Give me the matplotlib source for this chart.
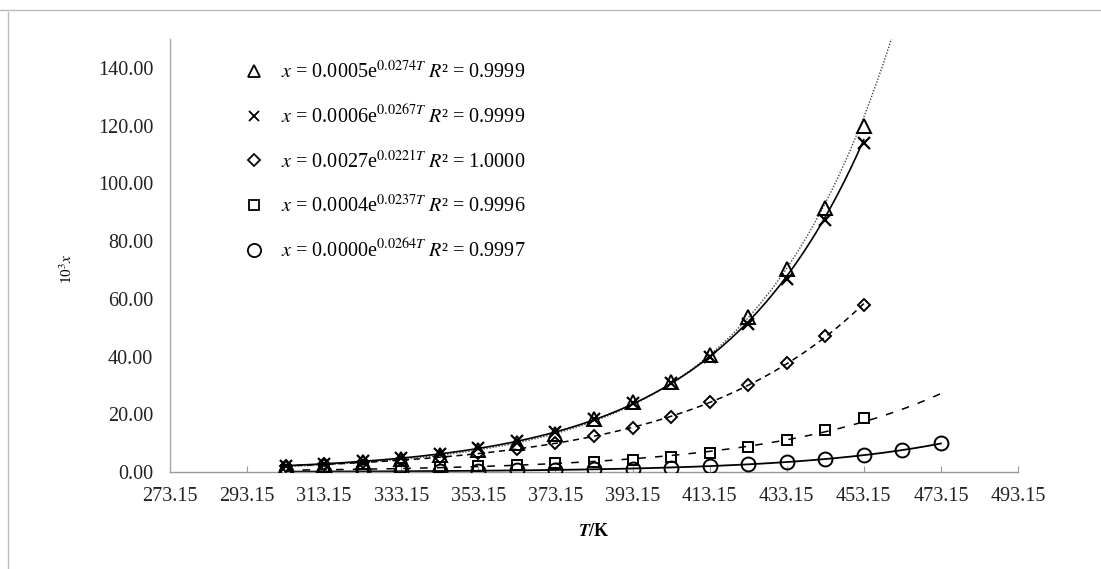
import numpy as np
import matplotlib
matplotlib.use("Agg")
import matplotlib.pyplot as plt
from matplotlib.lines import Line2D

# ---- data (10^3 x vs T/K) ----
T_main = [303.15, 313.15, 323.15, 333.15, 343.15, 353.15, 363.15, 373.15,
          383.15, 393.15, 403.15, 413.15, 423.15, 433.15, 443.15, 453.15]
T_circ = [303.15, 313.15, 323.15, 333.15, 343.15, 353.15, 363.15, 373.15,
          383.15, 393.15, 403.15, 413.15, 423.15, 433.15, 443.15, 453.15,
          463.15, 473.15]

tri = [1.9, 2.5, 3.3, 4.4, 5.8, 7.5, 10.0, 13.3, 18.2, 24.2, 31.2, 40.5, 53.6, 70.3, 91.5, 120.0]
crs = [2.1, 2.8, 3.7, 4.8, 6.3, 8.3, 10.8, 14.0, 18.5, 24.0, 30.8, 39.8, 51.4, 66.8, 87.4, 114.0]
dia = [2.1, 2.6, 3.3, 4.1, 5.2, 6.5, 7.8, 9.9, 12.3, 15.4, 19.0, 24.2, 30.1, 37.8, 47.1, 57.9]
sqr = [0.55, 0.75, 1.0, 1.3, 1.6, 2.0, 2.5, 3.0, 3.5, 4.2, 5.3, 6.6, 8.8, 11.0, 14.5, 18.7]
cir = [0.11, 0.15, 0.19, 0.25, 0.32, 0.42, 0.55, 0.71, 0.93, 1.2, 1.5, 2.0, 2.6, 3.5, 4.5, 5.9, 7.6, 10.0]

labels = [
    r"$x$ = 0.0005e$^{0.0274\mathit{T}}$ $R$² = 0.9999",
    r"$x$ = 0.0006e$^{0.0267\mathit{T}}$ $R$² = 0.9999",
    r"$x$ = 0.0027e$^{0.0221\mathit{T}}$ $R$² = 1.0000",
    r"$x$ = 0.0004e$^{0.0237\mathit{T}}$ $R$² = 0.9996",
    r"$x$ = 0.0000e$^{0.0264\mathit{T}}$ $R$² = 0.9997",
]
xticks = [273.15, 293.15, 313.15, 333.15, 353.15, 373.15, 393.15, 413.15,
          433.15, 453.15, 473.15, 493.15]
yticks = [0, 20, 40, 60, 80, 100, 120, 140]

plt.rcParams['font.family'] = ['Liberation Serif', 'DejaVu Serif']
plt.rcParams['mathtext.fontset'] = 'stix'

fig = plt.figure(figsize=(11.01, 5.69), dpi=100)
ax = fig.add_axes([0.1544, 0.1705, 0.7702, 0.7610])


def trend(T, y, t_end):
    b, a = np.polyfit(np.array(T), np.log(np.array(y)), 1)
    tt = np.linspace(T[0], t_end, 300)
    return tt, np.exp(a + b * tt)


series = [
    (T_main, tri, '^', 9.5, (0, (1, 1.2)), 1.0, 473.15, '#444444'),
    (T_main, crs, 'x', 8, '-', 1.2, 453.15, 'black'),
    (T_main, dia, 'D', 6.5, (0, (4, 3)), 1.1, 453.15, 'black'),
    (T_main, sqr, 's', 7.5, (0, (5, 6)), 1.1, 473.15, 'black'),
    (T_circ, cir, 'o', 10, '-', 1.3, 473.15, 'black'),
]

handles = []
for (T, y, m, ms, ls, lw, tend, lc), lab in zip(series, labels):
    tt, yy = trend(T, y, tend)
    ax.plot(tt, yy, linestyle=ls, color=lc, lw=lw, zorder=2)
    if m == 'x':
        ax.plot(T, y, linestyle='none', marker=m, ms=ms, mec='black', mew=1.6, zorder=3)
    else:
        ax.plot(T, y, linestyle='none', marker=m, ms=ms, mfc='none', mec='black', mew=1.4, zorder=3)
    handles.append(Line2D([], [], linestyle='none', marker=m, ms=ms * 0.95,
                          mfc='none', mec='black', mew=1.3, label=lab))

ax.set_xlim(273.15, 493.15)
ax.set_ylim(0, 150)
ax.set_xticks(xticks)
ax.set_xticklabels([f"{v:.2f}" for v in xticks])
ax.set_yticks(yticks)
ax.set_yticklabels([f"{v:.2f}" for v in yticks])
ax.tick_params(axis='both', labelsize=14.5, colors='#222222')
ax.tick_params(axis='x', direction='in', length=4, color='#999999', pad=11)
ax.tick_params(axis='y', length=0, pad=12)

for s in ['top', 'right']:
    ax.spines[s].set_visible(False)
ax.spines['left'].set_color('#aaaaaa')
ax.spines['bottom'].set_color('#999999')
ax.spines['left'].set_linewidth(1.0)
ax.spines['bottom'].set_linewidth(1.0)

ax.set_xlabel(r"$\boldsymbol{T}$/K", fontsize=13, fontweight='bold', labelpad=12)
ax.set_ylabel(r"10$^3$$x$", fontsize=11, labelpad=20)
ax.yaxis.set_label_coords(-0.112, 0.47)

leg = ax.legend(handles=handles, loc='upper left', bbox_to_anchor=(0.07, 0.982),
                frameon=False, fontsize=14.5, handlelength=1.0, handletextpad=0.85,
                labelspacing=1.1, borderaxespad=0.3)

# page border lines
fig.add_artist(Line2D([0, 1], [1 - 10 / 569, 1 - 10 / 569], color='#bbbbbb', lw=1.0))
fig.add_artist(Line2D([8 / 1101, 8 / 1101], [0, 1 - 12 / 569], color='#bbbbbb', lw=1.0))

fig.savefig("out.png", dpi=100)
